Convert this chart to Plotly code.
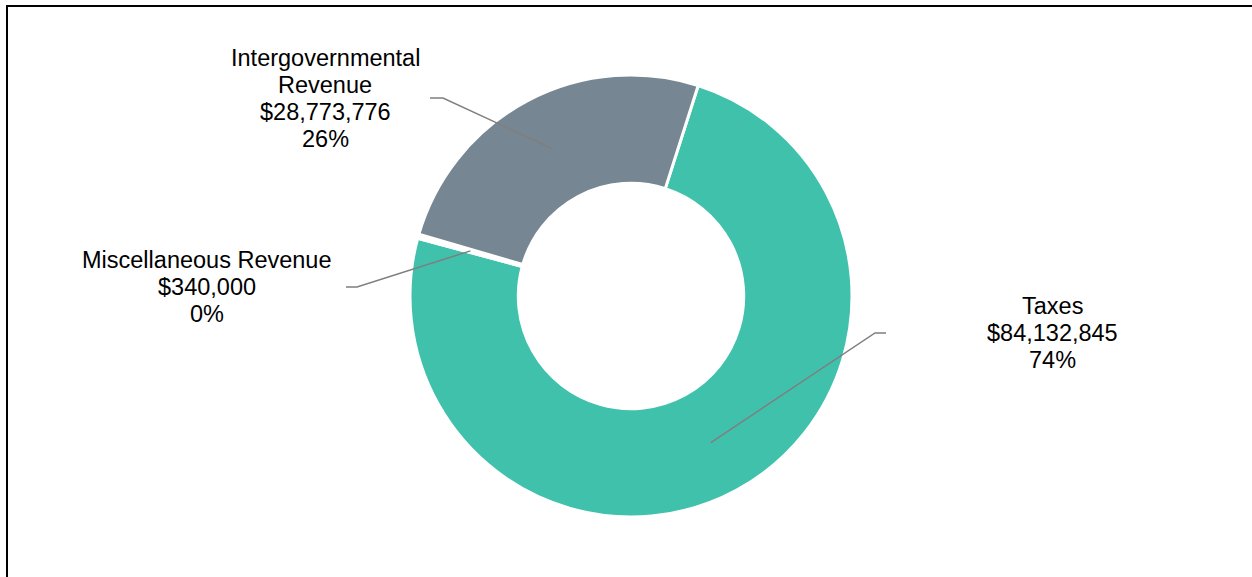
import math
import plotly.graph_objects as go

categories = ["Taxes", "Miscellaneous Revenue", "Intergovernmental Revenue"]
values = [84132845, 340000, 28773776]
label_lines = [
    ["Taxes", "$84,132,845", "74%"],
    ["Miscellaneous Revenue", "$340,000", "0%"],
    ["Intergovernmental", "Revenue", "$28,773,776", "26%"],
]
colors = ["#40C1AC", "#FFFFFF", "#768692"]

W, H = 1252, 577
CX, CY, R = 631, 296, 221
HOLE = 0.51
ROTATION = 17.7
LINE_GAP = 27


def px(x):
    return x / W


def py(y):
    return 1 - y / H


fig = go.Figure(go.Pie(
    labels=categories,
    values=values,
    sort=False,
    direction="clockwise",
    rotation=ROTATION,
    hole=HOLE,
    marker=dict(colors=colors, line=dict(color="white", width=3)),
    textinfo="none",
    hoverinfo="label+value+percent",
    showlegend=False,
    domain=dict(x=[px(CX - R), px(CX + R)], y=[py(CY + R), py(CY - R)]),
))

# label positions (text centre, elbow start, elbow)
label_pos = [
    dict(tx=1052, ty=333, x0=886, x1=875, ly=333),
    dict(tx=207, ty=287, x0=346, x1=357, ly=287),
    dict(tx=325, ty=98.5, x0=430, x1=443, ly=98),
]

total = sum(values)
cum = 0.0
shapes = []
annotations = []
rmid = R * (1 + HOLE) / 2
for v, lines, lp in zip(values, label_lines, label_pos):
    mid = ROTATION + 360 * (cum + v / 2) / total
    cum += v
    a = math.radians(mid)
    ex = CX + rmid * math.sin(a)
    ey = CY - rmid * math.cos(a)
    path = "M {} {} L {} {} L {} {}".format(px(lp["x0"]), py(lp["ly"]), px(lp["x1"]), py(lp["ly"]), px(ex), py(ey))
    shapes.append(dict(type="path", xref="paper", yref="paper", path=path,
                       line=dict(color="#7F7F7F", width=1.5)))
    n = len(lines)
    for i, t in enumerate(lines):
        yy = lp["ty"] + (i - (n - 1) / 2) * LINE_GAP
        annotations.append(dict(
            x=px(lp["tx"]), y=py(yy), xref="paper", yref="paper",
            text=t, showarrow=False, xanchor="center", yanchor="middle",
            align="center", font=dict(family="Liberation Sans, Arial", size=23.5, color="#000000"),
        ))

# chart border (left and top visible)
shapes.append(dict(type="path", xref="paper", yref="paper",
                   path="M {} {} L {} {} L {} {}".format(px(7), py(H + 5), px(7), py(6), px(W + 5), py(6)),
                   line=dict(color="#000000", width=2)))

fig.update_layout(
    width=W, height=H,
    margin=dict(l=0, r=0, t=0, b=0),
    paper_bgcolor="white",
    plot_bgcolor="white",
    shapes=shapes,
    annotations=annotations,
)

fig.write_html("out.html")
